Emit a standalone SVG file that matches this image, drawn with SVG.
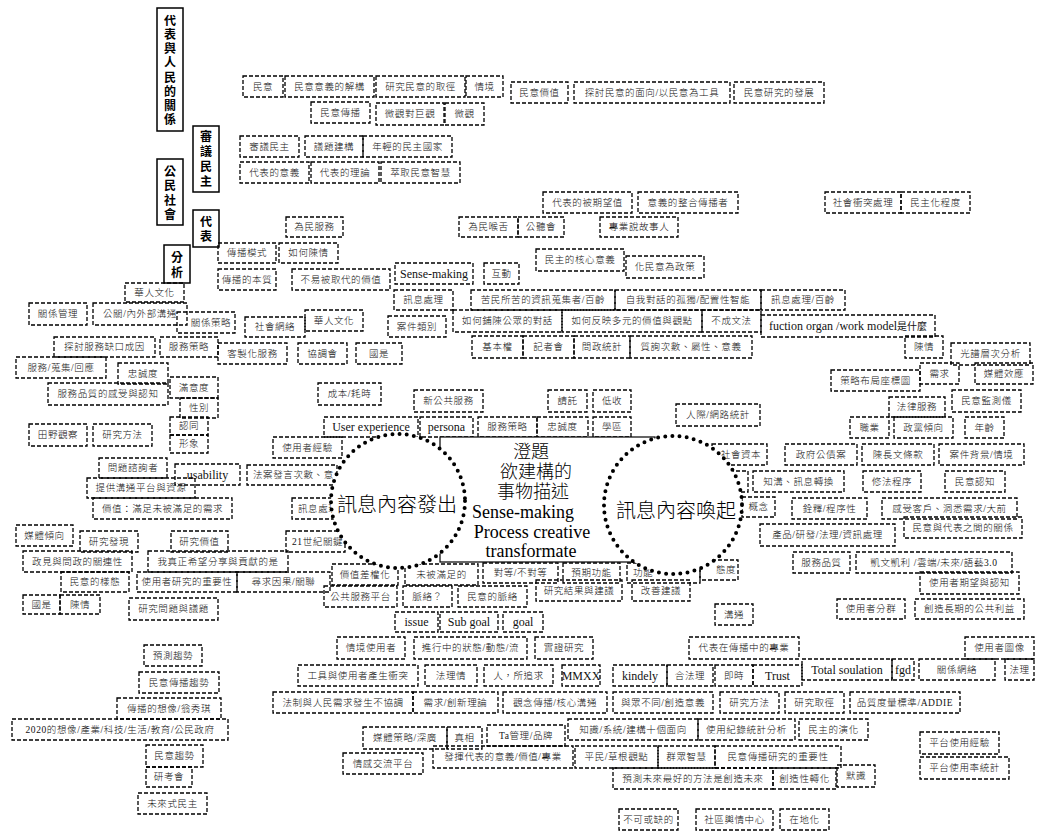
<svg xmlns="http://www.w3.org/2000/svg" width="1037" height="837" viewBox="0 0 1037 837">
<style>
.b rect{fill:none;stroke:#000;stroke-width:1.3;stroke-dasharray:4 2}
.b text{font-family:"Liberation Serif","Noto Sans CJK TC",serif;font-size:9.5px;font-weight:300;letter-spacing:.6px;text-anchor:middle;dominant-baseline:central;fill:#111}
.b text.e{font-size:12px;letter-spacing:0;font-weight:normal}
.b text.l{text-anchor:start}
.v rect{fill:#fff;stroke:#000;stroke-width:1.5}
.v text{font-family:"Noto Sans CJK TC",sans-serif;font-size:12px;font-weight:bold;text-anchor:middle;dominant-baseline:central;writing-mode:vertical-rl}
.c{fill:#fff;stroke:#000;stroke-width:4;stroke-dasharray:0 7.2;stroke-linecap:round}
.ct{font-family:"Noto Sans CJK TC",sans-serif;font-size:20px;font-weight:300;text-anchor:middle;dominant-baseline:central}
.mt{font-family:"Liberation Serif","Noto Sans CJK TC",serif;font-size:18px;font-weight:300;text-anchor:middle;dominant-baseline:central}
</style>
<rect width="1037" height="837" fill="#fff"/>
<g id="connectors"/>
<g class="v">
<g id="v1"><rect x="157" y="8" width="26" height="123"/><text x="170" y="71" letter-spacing="2.2">代表與人民的關係</text></g>
<g id="v2"><rect x="193" y="126" width="26" height="66"/><text x="206" y="160" letter-spacing="3">審議民主</text></g>
<g id="v3"><rect x="157" y="159" width="26" height="66"/><text x="170" y="194" letter-spacing="2.5">公民社會</text></g>
<g id="v4"><rect x="193" y="210" width="26" height="37"/><text x="206" y="230" letter-spacing="2.5">代表</text></g>
<g id="v5"><rect x="164" y="245" width="26" height="38"/><text x="177" y="266" letter-spacing="3">分析</text></g>
</g>
<g class="b">
<g id="n1"><rect x="243" y="76" width="40" height="21"/><text x="263" y="86.5">民意</text></g>
<g id="n2"><rect x="285" y="76" width="89" height="21"/><text x="329.5" y="86.5">民意意義的解構</text></g>
<g id="n3"><rect x="376" y="76" width="89" height="21"/><text x="420.5" y="86.5">研究民意的取徑</text></g>
<g id="n4"><rect x="466" y="76" width="37" height="21"/><text x="484.5" y="86.5">情境</text></g>
<g id="n5"><rect x="511" y="82" width="57" height="21"/><text x="539.5" y="92.5">民意價值</text></g>
<g id="n6"><rect x="574" y="82" width="156" height="21"/><text x="652" y="92.5">探討民意的面向/以民意為工具</text></g>
<g id="n7"><rect x="734" y="82" width="90" height="21"/><text x="779" y="92.5">民意研究的發展</text></g>
<g id="n8"><rect x="311" y="102" width="59" height="21"/><text x="340.5" y="112.5">民意傳播</text></g>
<g id="n9"><rect x="376" y="103" width="68" height="22"/><text x="410" y="114">微觀對巨觀</text></g>
<g id="n10"><rect x="445" y="103" width="39" height="22"/><text x="464.5" y="114">微觀</text></g>
<g id="n11"><rect x="240" y="136" width="59" height="21"/><text x="269.5" y="146.5">審議民主</text></g>
<g id="n12"><rect x="305" y="136" width="58" height="21"/><text x="334" y="146.5">議題建構</text></g>
<g id="n13"><rect x="363" y="136" width="89" height="21"/><text x="407.5" y="146.5">年輕的民主國家</text></g>
<g id="n14"><rect x="240" y="162" width="69" height="21"/><text x="274.5" y="172.5">代表的意義</text></g>
<g id="n15"><rect x="311" y="162" width="68" height="21"/><text x="345" y="172.5">代表的理論</text></g>
<g id="n16"><rect x="381" y="162" width="79" height="21"/><text x="420.5" y="172.5">萃取民意智慧</text></g>
<g id="n17"><rect x="543" y="192" width="89" height="21"/><text x="587.5" y="202.5">代表的被期望值</text></g>
<g id="n18"><rect x="638" y="192" width="100" height="21"/><text x="688" y="202.5">意義的整合傳播者</text></g>
<g id="n19"><rect x="825" y="192" width="76" height="21"/><text x="863" y="202.5">社會衝突處理</text></g>
<g id="n20"><rect x="901" y="192" width="69" height="21"/><text x="935.5" y="202.5">民主化程度</text></g>
<g id="n21"><rect x="286" y="217" width="57" height="20"/><text x="314.5" y="227">為民服務</text></g>
<g id="n22"><rect x="459" y="217" width="59" height="20"/><text x="488.5" y="227">為民喉舌</text></g>
<g id="n23"><rect x="518" y="217" width="46" height="20"/><text x="541" y="227">公聽會</text></g>
<g id="n24"><rect x="600" y="217" width="78" height="20"/><text x="639" y="227">專業說故事人</text></g>
<g id="n25"><rect x="218" y="243" width="58" height="20"/><text x="247" y="253">傳播模式</text></g>
<g id="n26"><rect x="279" y="243" width="59" height="20"/><text x="308.5" y="253">如何陳情</text></g>
<g id="n27"><rect x="536" y="249" width="88" height="22"/><text x="580" y="260">民主的核心意義</text></g>
<g id="n28"><rect x="626" y="256" width="78" height="22"/><text x="665" y="267">化民意為政策</text></g>
<g id="n29"><rect x="218" y="269" width="58" height="21"/><text x="247" y="279.5">傳播的本質</text></g>
<g id="n30"><rect x="292" y="269" width="98" height="21"/><text x="341" y="279.5">不易被取代的價值</text></g>
<g id="n31"><rect x="395" y="263" width="78" height="21"/><text class="e" x="434" y="273.5">Sense-making</text></g>
<g id="n32"><rect x="484" y="263" width="35" height="21"/><text x="501.5" y="273.5">互動</text></g>
<g id="n33"><rect x="394" y="290" width="59" height="20"/><text x="423.5" y="300">訊息處理</text></g>
<g id="n34"><rect x="471" y="290" width="144" height="20"/><text x="543" y="300">苦民所苦的資訊蒐集者/百齡</text></g>
<g id="n35"><rect x="615" y="290" width="146" height="20"/><text x="688" y="300">自我對話的孤獨/配置性智能</text></g>
<g id="n36"><rect x="761" y="290" width="84" height="20"/><text x="803" y="300">訊息處理/百齡</text></g>
<g id="n37"><rect x="245" y="317" width="60" height="20"/><text x="275" y="327">社會網絡</text></g>
<g id="n38"><rect x="305" y="310" width="58" height="21"/><text x="334" y="320.5">華人文化</text></g>
<g id="n39"><rect x="388" y="316" width="58" height="21"/><text x="417" y="326.5">案件類別</text></g>
<g id="n40"><rect x="453" y="310" width="109" height="22"/><text x="507.5" y="321">如何鋪陳公眾的對話</text></g>
<g id="n41"><rect x="562" y="310" width="140" height="22"/><text x="632" y="321">如何反映多元的價值與觀點</text></g>
<g id="n42"><rect x="702" y="310" width="59" height="22"/><text x="731.5" y="321">不成文法</text></g>
<g id="n43"><rect x="761" y="315" width="174" height="22"/><text class="e" x="848" y="326">fuction organ /work model<tspan font-size="10">是什麼</tspan></text></g>
<g id="n44"><rect x="218" y="343" width="69" height="21"/><text x="252.5" y="353.5">客製化服務</text></g>
<g id="n45"><rect x="298" y="343" width="49" height="21"/><text x="322.5" y="353.5">協調會</text></g>
<g id="n46"><rect x="356" y="343" width="46" height="21"/><text x="379" y="353.5">國是</text></g>
<g id="n47"><rect x="472" y="336" width="51" height="22"/><text x="497.5" y="347">基本權</text></g>
<g id="n48"><rect x="523" y="336" width="51" height="22"/><text x="548.5" y="347">記者會</text></g>
<g id="n49"><rect x="574" y="336" width="56" height="22"/><text x="602" y="347">問政統計</text></g>
<g id="n50"><rect x="630" y="336" width="122" height="22"/><text x="691" y="347">質詢次數、屬性、意義</text></g>
<g id="n51"><rect x="125" y="283" width="59" height="19"/><text x="154.5" y="292.5">華人文化</text></g>
<g id="n52"><rect x="29" y="303" width="58" height="22"/><text x="58" y="314">關係管理</text></g>
<g id="n53"><rect x="93" y="303" width="94" height="22"/><text x="140" y="314">公關/內外部溝通</text></g>
<g id="n54"><rect x="177" y="312" width="58" height="21"/><text x="211" y="322.5">關係策略</text></g>
<g id="n55"><rect x="54" y="337" width="101" height="20"/><text x="104.5" y="347">探討服務缺口成因</text></g>
<g id="n56"><rect x="160" y="337" width="58" height="20"/><text x="189" y="347">服務策略</text></g>
<g id="n57"><rect x="16" y="357" width="90" height="21"/><text x="61" y="367.5">服務/蒐集/回應</text></g>
<g id="n58"><rect x="118" y="363" width="50" height="21"/><text x="143" y="373.5">忠誠度</text></g>
<g id="n59"><rect x="48" y="383" width="120" height="22"/><text x="108" y="394">服務品質的感受與認知</text></g>
<g id="n60"><rect x="170" y="377" width="48" height="21"/><text x="194" y="387.5">滿意度</text></g>
<g id="n61"><rect x="180" y="398" width="38" height="20"/><text x="199" y="408">性別</text></g>
<g id="n62"><rect x="170" y="417" width="38" height="18"/><text x="189" y="426">認同</text></g>
<g id="n63"><rect x="170" y="435" width="38" height="18"/><text x="189" y="444">形象</text></g>
<g id="n64"><rect x="29" y="424" width="58" height="22"/><text x="58" y="435">田野觀察</text></g>
<g id="n65"><rect x="93" y="424" width="59" height="22"/><text x="122.5" y="435">研究方法</text></g>
<g id="n66"><rect x="99" y="458" width="68" height="20"/><text x="133" y="468">問題諮詢者</text></g>
<g id="n67"><rect x="175" y="464" width="65" height="21"/><text class="e" x="207.5" y="474.5">usability</text></g>
<g id="n68"><rect x="247" y="465" width="90" height="20"/><text class="l" x="253" y="475">法案發言次數、意</text></g>
<g id="n69"><rect x="87" y="478" width="108" height="20"/><text x="141" y="488">提供溝通平台與資源</text></g>
<g id="n70"><rect x="93" y="498" width="139" height="21"/><text x="162.5" y="508.5">價值：滿足未被滿足的需求</text></g>
<g id="n71"><rect x="16" y="525" width="57" height="21"/><text x="44.5" y="535.5">媒體傾向</text></g>
<g id="n72"><rect x="80" y="531" width="58" height="21"/><text x="109" y="541.5">研究發現</text></g>
<g id="n73"><rect x="171" y="531" width="57" height="21"/><text x="199.5" y="541.5">研究價值</text></g>
<g id="n74"><rect x="23" y="551" width="109" height="21"/><text x="77.5" y="561.5">政見與問政的關連性</text></g>
<g id="n75"><rect x="148" y="551" width="140" height="21"/><text x="218" y="561.5">我真正希望分享與貢獻的是</text></g>
<g id="n76"><rect x="61" y="572" width="68" height="20"/><text x="95" y="582">民意的樣態</text></g>
<g id="n77"><rect x="137" y="572" width="100" height="20"/><text x="187" y="582">使用者研究的重要性</text></g>
<g id="n78"><rect x="237" y="572" width="93" height="20"/><text x="283.5" y="582">尋求因果/關聯</text></g>
<g id="n79"><rect x="23" y="595" width="37" height="19"/><text x="41.5" y="604.5">國是</text></g>
<g id="n80"><rect x="60" y="595" width="40" height="19"/><text x="80" y="604.5">陳情</text></g>
<g id="n81"><rect x="129" y="598" width="89" height="22"/><text x="173.5" y="609">研究問題與議題</text></g>
<g id="n82"><rect x="144" y="645" width="58" height="21"/><text x="173" y="655.5">預測趨勢</text></g>
<g id="n83"><rect x="139" y="672" width="80" height="21"/><text x="179" y="682.5">民意傳播趨勢</text></g>
<g id="n84"><rect x="117" y="698" width="104" height="21"/><text x="169" y="708.5">傳播的想像/翁秀琪</text></g>
<g id="n85"><rect x="12" y="719" width="216" height="21"/><text x="120" y="729.5">2020的想像/產業/科技/生活/教育/公民政府</text></g>
<g id="n86"><rect x="146" y="745" width="57" height="22"/><text x="174.5" y="756">民意趨勢</text></g>
<g id="n87"><rect x="146" y="767" width="46" height="20"/><text x="169" y="777">研考會</text></g>
<g id="n88"><rect x="138" y="793" width="69" height="21"/><text x="172.5" y="803.5">未來式民主</text></g>
<g id="n89"><rect x="318" y="383" width="63" height="22"/><text x="349.5" y="394">成本/耗時</text></g>
<g id="n90"><rect x="414" y="390" width="69" height="22"/><text x="448.5" y="401">新公共服務</text></g>
<g id="n91"><rect x="324" y="417" width="94" height="20"/><text class="e" x="371" y="427">User experience</text></g>
<g id="n92"><rect x="420" y="417" width="53" height="20"/><text class="e" x="446.5" y="427">persona</text></g>
<g id="n93"><rect x="478" y="417" width="59" height="20"/><text x="507.5" y="427">服務策略</text></g>
<g id="n94"><rect x="537" y="417" width="51" height="20"/><text x="562.5" y="427">忠誠度</text></g>
<g id="n95"><rect x="593" y="417" width="38" height="20"/><text x="612" y="427">學區</text></g>
<g id="n96"><rect x="548" y="390" width="39" height="22"/><text x="567.5" y="401">請託</text></g>
<g id="n97"><rect x="593" y="390" width="38" height="22"/><text x="612" y="401">低收</text></g>
<g id="n98"><rect x="273" y="437" width="69" height="21"/><text x="307.5" y="447.5">使用者經驗</text></g>
<g id="n99"><rect x="292" y="498" width="53" height="21"/><text class="l" x="298" y="508.5">訊息處理</text></g>
<g id="n100"><rect x="286" y="531" width="59" height="21"/><text class="l" x="292" y="541.5">21世紀關鍵</text></g>
<g id="n101"><rect x="676" y="404" width="84" height="22"/><text x="718" y="415">人際/網路統計</text></g>
<g id="n102"><rect x="712" y="444" width="55" height="21"/><text x="741" y="454.5">社會資本</text></g>
<g id="n103"><rect x="905" y="336" width="38" height="22"/><text x="924" y="347">陳情</text></g>
<g id="n104"><rect x="951" y="343" width="79" height="22"/><text x="990.5" y="354">光譜層次分析</text></g>
<g id="n105"><rect x="920" y="363" width="39" height="21"/><text x="939.5" y="373.5">需求</text></g>
<g id="n106"><rect x="975" y="363" width="58" height="21"/><text x="1004" y="373.5">媒體效應</text></g>
<g id="n107"><rect x="831" y="370" width="89" height="21"/><text x="875.5" y="380.5">策略布局座標圖</text></g>
<g id="n108"><rect x="952" y="390" width="69" height="22"/><text x="986.5" y="401">民意監測儀</text></g>
<g id="n109"><rect x="889" y="397" width="56" height="20"/><text x="917" y="407">法律服務</text></g>
<g id="n110"><rect x="850" y="417" width="39" height="21"/><text x="869.5" y="427.5">職業</text></g>
<g id="n111"><rect x="894" y="417" width="59" height="21"/><text x="923.5" y="427.5">政黨傾向</text></g>
<g id="n112"><rect x="965" y="417" width="39" height="21"/><text x="984.5" y="427.5">年齡</text></g>
<g id="n113"><rect x="785" y="444" width="72" height="21"/><text x="821" y="454.5">政府公債案</text></g>
<g id="n114"><rect x="862" y="444" width="72" height="21"/><text x="898" y="454.5">陳長文條款</text></g>
<g id="n115"><rect x="939" y="444" width="85" height="21"/><text x="981.5" y="454.5">案件背景/情境</text></g>
<g id="n116"><rect x="700" y="471" width="48" height="21"/></g>
<g id="n117"><rect x="753" y="471" width="91" height="21"/><text x="798.5" y="481.5">知溝、訊息轉換</text></g>
<g id="n118"><rect x="863" y="471" width="58" height="21"/><text x="892" y="481.5">修法程序</text></g>
<g id="n119"><rect x="945" y="471" width="60" height="21"/><text x="975" y="481.5">民意認知</text></g>
<g id="n120"><rect x="742" y="497" width="33" height="20"/><text x="758.5" y="507">概念</text></g>
<g id="n121"><rect x="792" y="498" width="75" height="21"/><text x="829.5" y="508.5">銓釋/程序性</text></g>
<g id="n122"><rect x="882" y="498" width="135" height="21"/><text x="949.5" y="508.5">感受客戶、洞悉需求/大前</text></g>
<g id="n123"><rect x="760" y="524" width="135" height="22"/><text x="827.5" y="535">產品/研發/法理/資訊處理</text></g>
<g id="n124"><rect x="904" y="517" width="118" height="21"/><text x="963" y="527.5">民意與代表之間的關係</text></g>
<g id="n125"><rect x="793" y="552" width="57" height="21"/><text x="821.5" y="562.5">服務品質</text></g>
<g id="n126"><rect x="856" y="552" width="156" height="21"/><text x="934" y="562.5">凱文凱利 /雲端/未來/語藝3.0</text></g>
<g id="n127"><rect x="920" y="572" width="99" height="22"/><text x="969.5" y="583">使用者期望與認知</text></g>
<g id="n128"><rect x="837" y="599" width="68" height="20"/><text x="871" y="609">使用者分群</text></g>
<g id="n129"><rect x="915" y="599" width="109" height="20"/><text x="969.5" y="609">創造長期的公共利益</text></g>
<g id="n130"><rect x="965" y="637" width="69" height="22"/><text x="999.5" y="648">使用者圖像</text></g>
<g id="n131"><rect x="802" y="659" width="90" height="21"/><text class="e" x="847" y="669.5">Total soulation</text></g>
<g id="n132"><rect x="892" y="659" width="22" height="21"/><text class="e" x="903" y="669.5">fgd</text></g>
<g id="n133"><rect x="919" y="659" width="76" height="21"/><text x="957" y="669.5">關係網絡</text></g>
<g id="n134"><rect x="1005" y="659" width="29" height="21"/><text x="1019.5" y="669.5">法理</text></g>
<g id="n135"><rect x="332" y="564" width="66" height="21"/><text x="365" y="574.5">價值差權化</text></g>
<g id="n136"><rect x="405" y="564" width="73" height="21"/><text x="441.5" y="574.5">未被滿足的</text></g>
<g id="n137"><rect x="483" y="563" width="75" height="20"/><text x="520.5" y="573">對等/不對等</text></g>
<g id="n138"><rect x="563" y="563" width="57" height="20"/><text x="591.5" y="573">預期功能</text></g>
<g id="n139"><rect x="627" y="563" width="73" height="20"/><text class="l" x="633" y="573">功能</text></g>
<g id="n140"><rect x="700" y="560" width="38" height="20"/><text x="726" y="570">態度</text></g>
<g id="n141"><rect x="324" y="586" width="73" height="21"/><text x="360.5" y="596.5">公共服務平台</text></g>
<g id="n142"><rect x="403" y="586" width="49" height="21"/><text x="427.5" y="596.5">脈絡？</text></g>
<g id="n143"><rect x="458" y="586" width="69" height="21"/><text x="492.5" y="596.5">民意的脈絡</text></g>
<g id="n144"><rect x="536" y="580" width="86" height="21"/><text x="579" y="590.5">研究結果與建議</text></g>
<g id="n145"><rect x="632" y="580" width="58" height="21"/><text x="661" y="590.5">改善建議</text></g>
<g id="n146"><rect x="395" y="612" width="43" height="20"/><text class="e" x="416.5" y="622">issue</text></g>
<g id="n147"><rect x="440" y="612" width="58" height="20"/><text class="e" x="469" y="622">Sub goal</text></g>
<g id="n148"><rect x="503" y="612" width="40" height="20"/><text class="e" x="523" y="622">goal</text></g>
<g id="n149"><rect x="715" y="604" width="38" height="21"/><text x="734" y="614.5">溝通</text></g>
<g id="n150"><rect x="337" y="637" width="68" height="22"/><text x="371" y="648">情境使用者</text></g>
<g id="n151"><rect x="414" y="637" width="113" height="22"/><text x="470.5" y="648">進行中的狀態/動態/流</text></g>
<g id="n152"><rect x="535" y="637" width="58" height="22"/><text x="564" y="648">實證研究</text></g>
<g id="n153"><rect x="689" y="637" width="110" height="22"/><text x="744" y="648">代表在傳播中的專業</text></g>
<g id="n154"><rect x="298" y="665" width="120" height="21"/><text x="358" y="675.5">工具與使用者產生衝突</text></g>
<g id="n155"><rect x="425" y="665" width="52" height="21"/><text x="451" y="675.5">法理情</text></g>
<g id="n156"><rect x="484" y="665" width="69" height="21"/><text x="518.5" y="675.5">人，所追求</text></g>
<g id="n157"><rect x="562" y="665" width="38" height="21"/><text class="e" x="581" y="675.5">MMXX</text></g>
<g id="n158"><rect x="613" y="665" width="54" height="21"/><text class="e" x="640" y="675.5">kindely</text></g>
<g id="n159"><rect x="667" y="665" width="46" height="21"/><text x="690" y="675.5">合法理</text></g>
<g id="n160"><rect x="715" y="665" width="38" height="21"/><text x="734" y="675.5">即時</text></g>
<g id="n161"><rect x="753" y="665" width="49" height="21"/><text class="e" x="777.5" y="675.5">Trust</text></g>
<g id="n162"><rect x="273" y="692" width="140" height="21"/><text x="343" y="702.5">法制與人民需求發生不協調</text></g>
<g id="n163"><rect x="413" y="692" width="85" height="21"/><text x="455.5" y="702.5">需求/創新理論</text></g>
<g id="n164"><rect x="503" y="692" width="104" height="21"/><text x="555" y="702.5">觀念傳播/核心溝通</text></g>
<g id="n165"><rect x="613" y="692" width="100" height="21"/><text x="663" y="702.5">與眾不同/創造意義</text></g>
<g id="n166"><rect x="720" y="692" width="59" height="21"/><text x="749.5" y="702.5">研究方法</text></g>
<g id="n167"><rect x="785" y="692" width="59" height="21"/><text x="814.5" y="702.5">研究取徑</text></g>
<g id="n168"><rect x="850" y="692" width="110" height="21"/><text x="905" y="702.5">品質度量標準/ADDIE</text></g>
<g id="n169"><rect x="363" y="727" width="84" height="22"/><text x="405" y="738">媒體策略/深廣</text></g>
<g id="n170"><rect x="447" y="727" width="35" height="22"/><text x="464.5" y="738">真相</text></g>
<g id="n171"><rect x="487" y="725" width="78" height="21"/><text x="526" y="735.5">Ta管理/品牌</text></g>
<g id="n172"><rect x="568" y="719" width="130" height="21"/><text x="633" y="729.5">知識/系統/建構十個面向</text></g>
<g id="n173"><rect x="698" y="719" width="97" height="21"/><text x="746.5" y="729.5">使用紀錄統計分析</text></g>
<g id="n174"><rect x="799" y="719" width="69" height="21"/><text x="833.5" y="729.5">民主的演化</text></g>
<g id="n175"><rect x="343" y="753" width="80" height="21"/><text x="383" y="763.5">情感交流平台</text></g>
<g id="n176"><rect x="433" y="746" width="140" height="22"/><text x="503" y="757">發揮代表的意義/價值/專業</text></g>
<g id="n177"><rect x="575" y="746" width="83" height="22"/><text x="616.5" y="757">平民/草根觀點</text></g>
<g id="n178"><rect x="658" y="746" width="57" height="22"/><text x="686.5" y="757">群眾智慧</text></g>
<g id="n179"><rect x="715" y="746" width="126" height="22"/><text x="778" y="757">民意傳播研究的重要性</text></g>
<g id="n180"><rect x="613" y="768" width="160" height="21"/><text x="693" y="778.5">預測未來最好的方法是創造未來</text></g>
<g id="n181"><rect x="773" y="768" width="63" height="21"/><text x="804.5" y="778.5">創造性轉化</text></g>
<g id="n182"><rect x="837" y="765" width="38" height="22"/><text x="856" y="776">默識</text></g>
<g id="n183"><rect x="920" y="732" width="79" height="22"/><text x="959.5" y="743">平台使用經驗</text></g>
<g id="n184"><rect x="920" y="757" width="89" height="22"/><text x="964.5" y="768">平台使用率統計</text></g>
<g id="n185"><rect x="619" y="809" width="59" height="21"/><text x="648.5" y="819.5">不可或缺的</text></g>
<g id="n186"><rect x="696" y="809" width="77" height="21"/><text x="734.5" y="819.5">社區輿情中心</text></g>
<g id="n187"><rect x="780" y="809" width="49" height="21"/><text x="804.5" y="819.5">在地化</text></g>
</g>
<g id="center">
<rect x="440" y="437" width="215" height="125" fill="#fff" stroke="#000" stroke-width="1.2"/>
<text class="mt" x="531" y="452">澄題</text>
<text class="mt" x="536" y="472">欲建構的</text>
<text class="mt" x="533" y="492">事物描述</text>
<text class="mt" x="523" y="512">Sense-making</text>
<text class="mt" x="532" y="532">Process creative</text>
<text class="mt" x="531" y="551">transformate</text>
</g>
<g id="send"><circle class="c" cx="398" cy="501" r="67"/><text class="ct" x="397" y="503">訊息內容發出</text></g>
<g id="evoke"><circle class="c" cx="673" cy="505" r="69"/><text class="ct" x="676" y="509">訊息內容喚起</text></g>
</svg>
